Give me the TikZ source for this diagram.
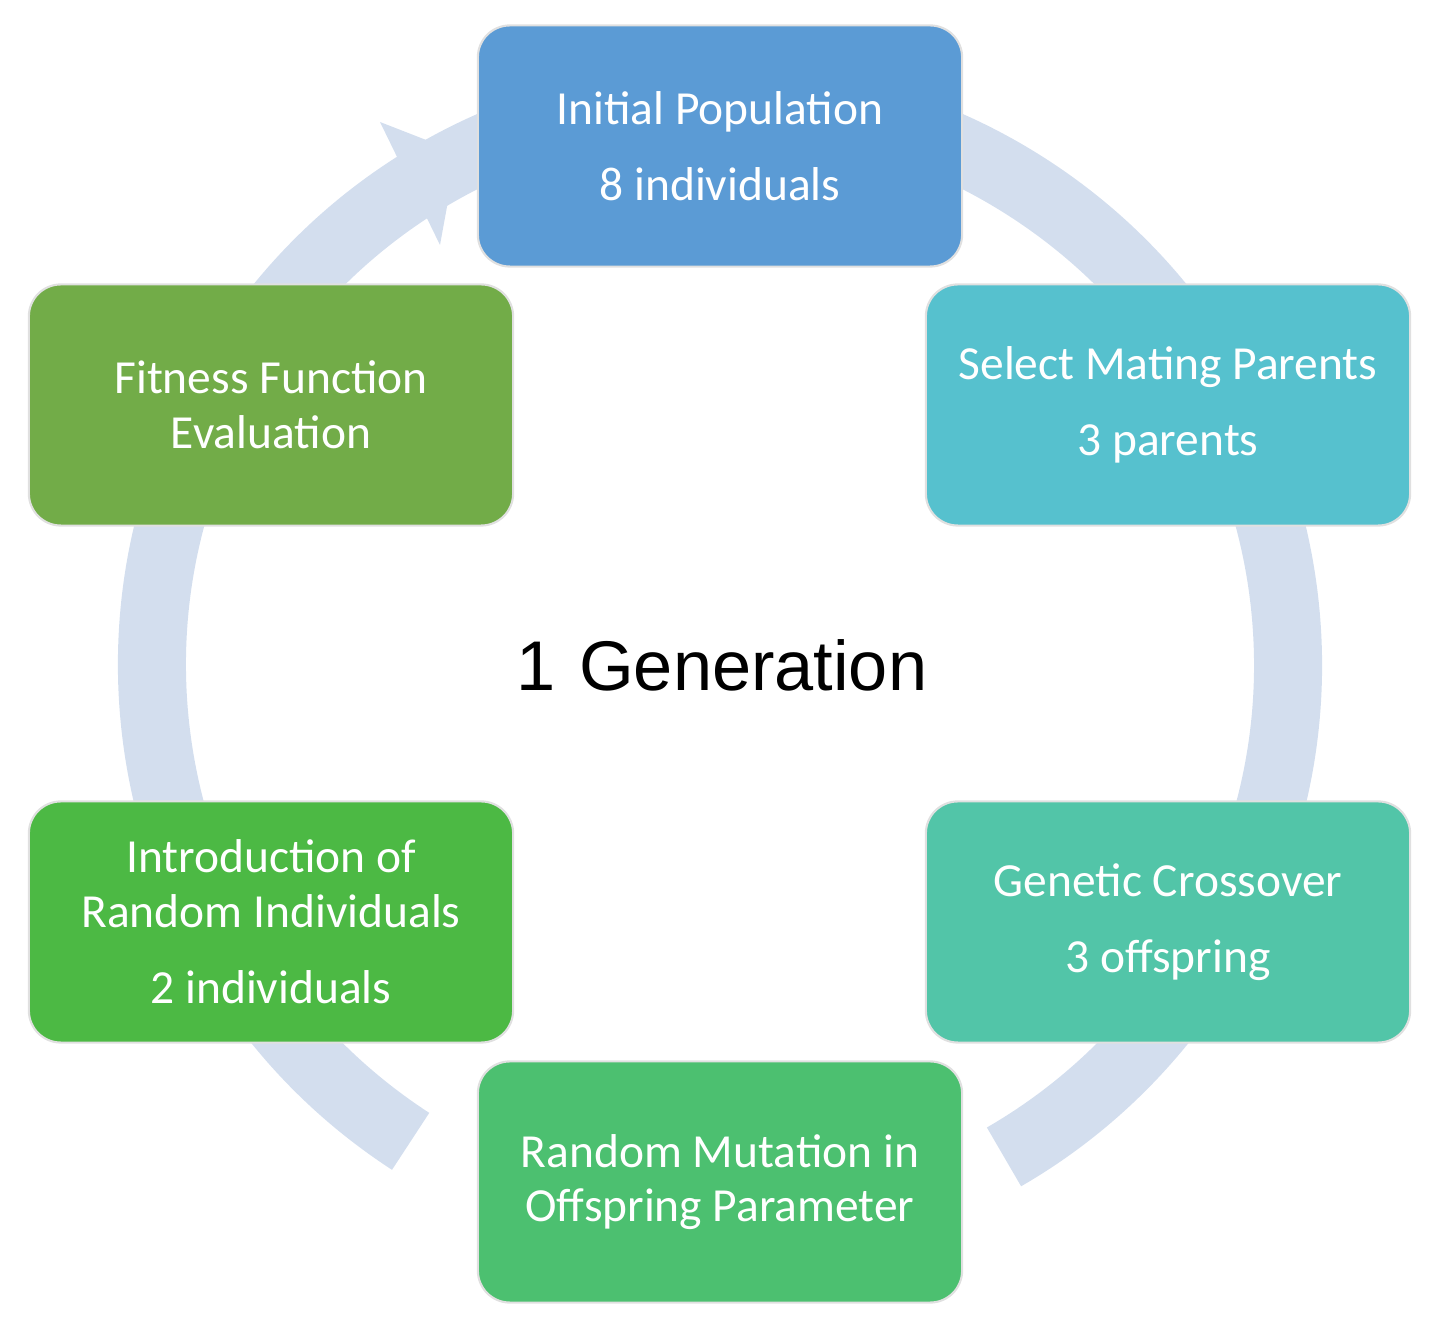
\documentclass[tikz,border=0pt]{standalone}
\usepackage{fontspec}
\setmainfont{Carlito}
\newfontfamily\gen{Liberation Sans}
\definecolor{ring}{HTML}{D3DEEE}
\definecolor{cA}{HTML}{5B9BD5}
\definecolor{cB}{HTML}{56C1CE}
\definecolor{cC}{HTML}{52C5A8}
\definecolor{cD}{HTML}{4CC070}
\definecolor{cE}{HTML}{4CB944}
\definecolor{cF}{HTML}{72AC48}
\begin{document}
\begin{tikzpicture}[x=0.01cm,y=-0.01cm,
  box/.style={draw=black!12,line width=0.6pt,rounded corners=0.32cm,text=white,
    minimum width=4.84cm,minimum height=2.41cm,inner sep=0pt,
    font=\fontsize{13.5}{15.5}\selectfont,align=center}]
\useasboundingbox (0,0) rectangle (1432,1328);
\draw[ring,line width=0.68cm] (720,665) ++(123:568) arc[start angle=123,end angle=420,radius=568];
\coordinate (h1) at (380,122);
\coordinate (h2) at (440,245);
\coordinate (h3) at (457,152);
\fill[ring] (h1) -- (h3) -- (h2) -- cycle;
\node[box,fill=cA] (a) at (720,146) {Initial Population\\[0.22cm]8 individuals};
\node[box,fill=cB] (b) at (1168,405) {Select Mating Parents\\[0.22cm]3 parents};
\node[box,fill=cC] (c) at (1168,922) {Genetic Crossover\\[0.22cm]3 offspring};
\node[box,fill=cD] (d) at (720,1182) {Random Mutation in\\Offspring Parameter};
\node[box,fill=cE] (e) at (271,922) {Introduction of\\Random Individuals\\[0.22cm]2 individuals};
\node[box,fill=cF] (f) at (271,405) {Fitness Function\\Evaluation};
\node[font=\gen\fontsize{20}{24}\selectfont] (g) at (722,665) {1\,\,Generation};
\end{tikzpicture}
\end{document}
